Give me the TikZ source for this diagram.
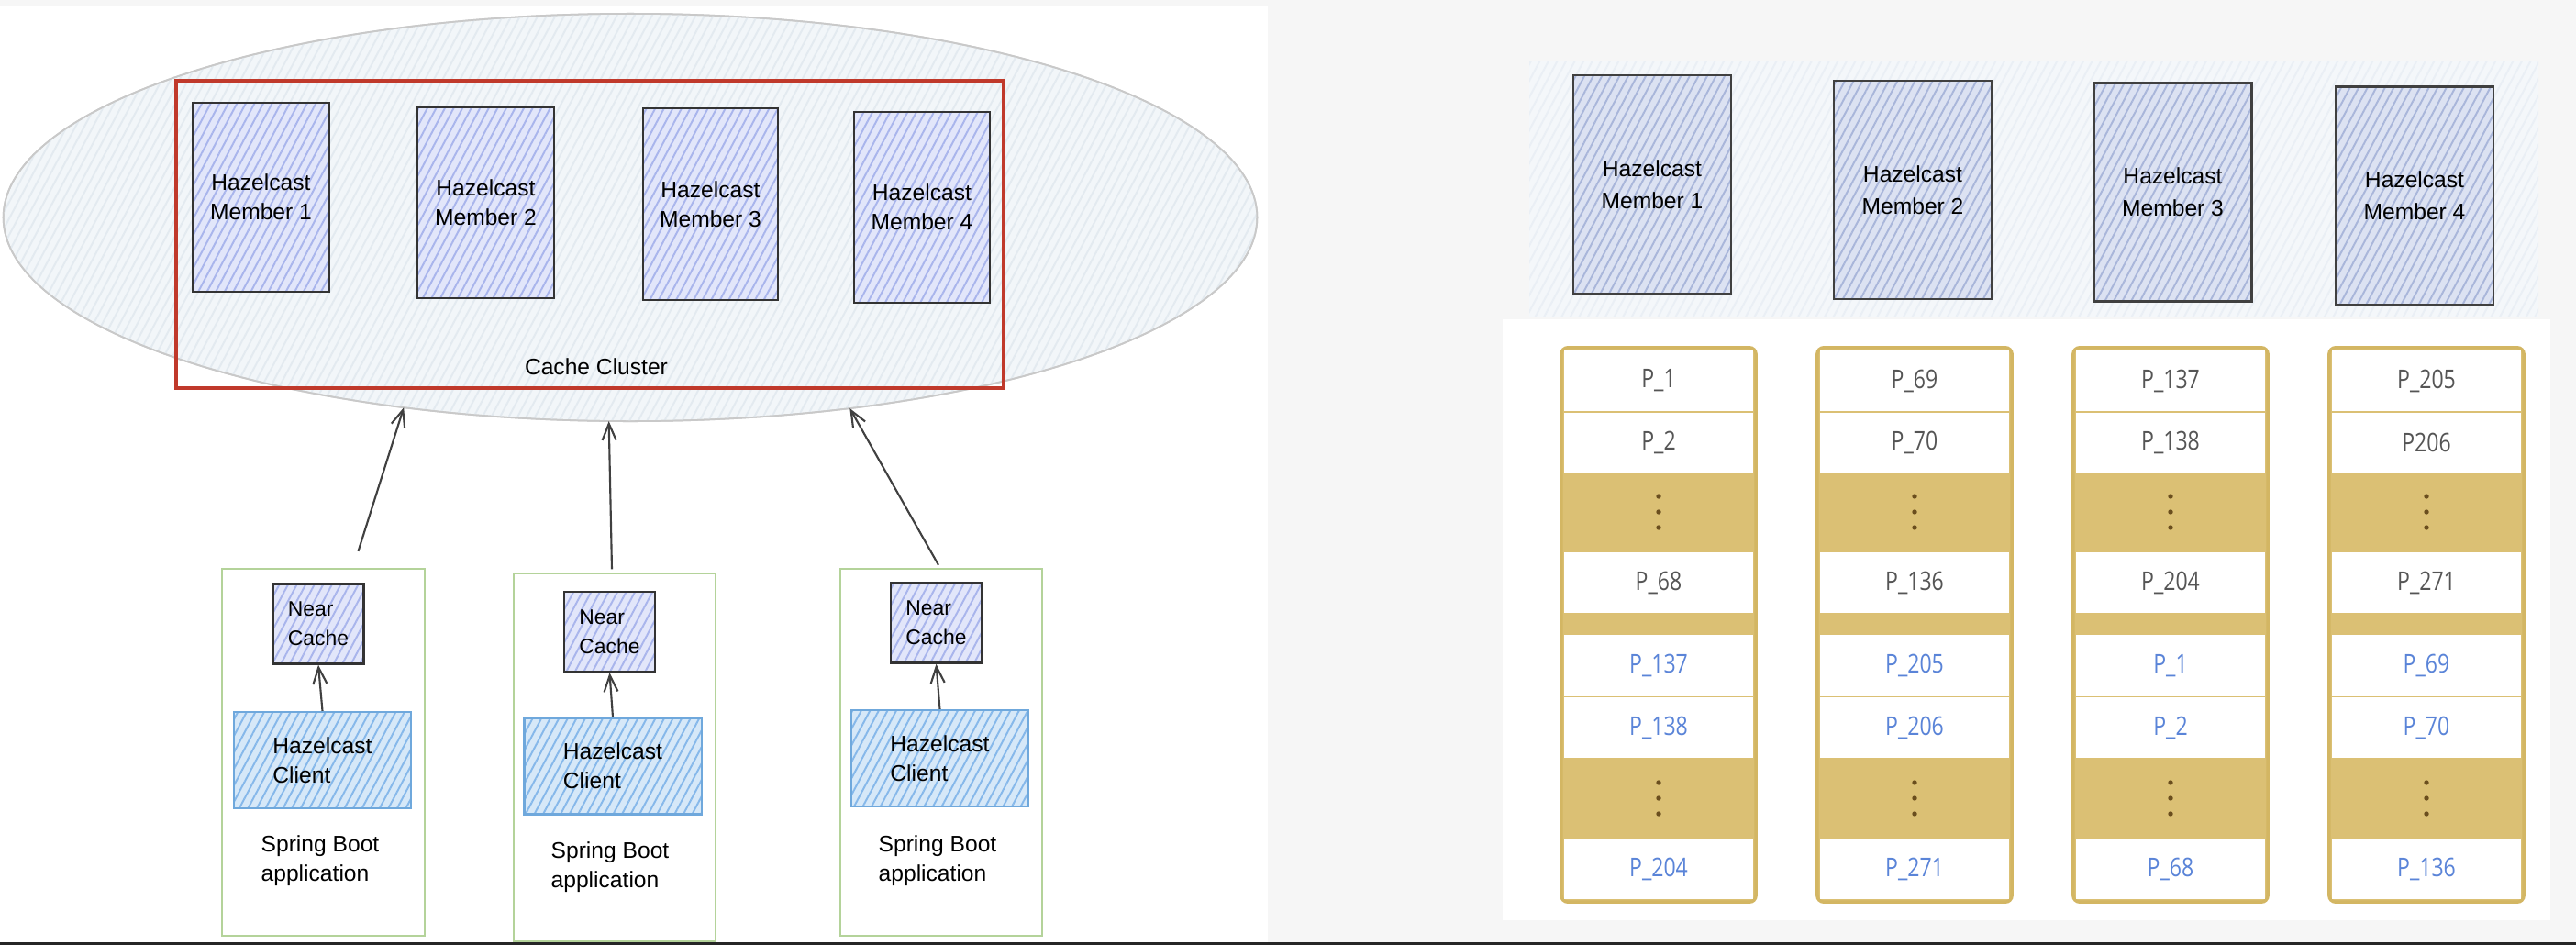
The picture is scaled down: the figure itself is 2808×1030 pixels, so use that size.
\documentclass[tikz,border=0pt]{standalone}
\usepackage{fontspec}
\setmainfont{Liberation Sans}
\newfontfamily\tabfont{Open Sans}[FakeStretch=0.82]
\usetikzlibrary{positioning,arrows.meta,shapes.geometric,patterns.meta,calc}
\definecolor{PageGray}{HTML}{F6F6F6}
\definecolor{RingFill}{HTML}{F2F6F9}
\definecolor{RingHatch}{HTML}{E3EAF0}
\definecolor{RingLine}{HTML}{C9C9C9}
\definecolor{ClusterRed}{HTML}{C0392B}
\definecolor{MemberFill}{HTML}{E2E6FA}
\definecolor{MemberHatch}{HTML}{A9B5EC}
\definecolor{ClientFill}{HTML}{D6E8F8}
\definecolor{ClientHatch}{HTML}{86B8EA}
\definecolor{ClientLine}{HTML}{6FA8DC}
\definecolor{AppGreen}{HTML}{B4D39A}
\definecolor{TopFill}{HTML}{F4F7FA}
\definecolor{TopHatch}{HTML}{EAEFF5}
\definecolor{RMemberFill}{HTML}{DCE2F2}
\definecolor{RMemberHatch}{HTML}{A9B6DA}
\definecolor{Gold}{HTML}{DBC074}
\definecolor{GoldLine}{HTML}{D3B663}
\definecolor{PartGray}{HTML}{555555}
\definecolor{PartBlue}{HTML}{5A84D8}
\definecolor{DotBrown}{HTML}{6A4E1E}

\begin{document}
\begin{tikzpicture}[x=0.01cm,y=-0.01cm,
  hatch/.style={postaction={pattern={Lines[angle=62,distance=2.4pt,line width=.55pt]},pattern color=#1}},
  redraw/.style={postaction={draw}},
  ring/.style={ellipse, draw=RingLine, line width=.5pt, fill=RingFill, hatch=RingHatch, redraw, inner sep=0pt, outer sep=0pt},
  clusterbox/.style={draw=ClusterRed, line width=1.2pt, inner sep=0pt},
  member/.style={draw=black!80, line width=.7pt, fill=MemberFill, hatch=MemberHatch, redraw, align=center, inner sep=0pt, font=\fontsize{7}{9}\selectfont},
  rmember/.style={draw=black!75, line width=.7pt, fill=RMemberFill, hatch=RMemberHatch, redraw, align=center, inner sep=0pt, minimum width=1.72cm, minimum height=2.38cm, font=\fontsize{7}{10}\selectfont},
  app/.style={draw=AppGreen, line width=.6pt, fill=white, minimum width=2.2cm, minimum height=4cm, inner sep=0pt},
  nearc/.style={draw=black!80, line width=.7pt, fill=MemberFill, hatch=MemberHatch, redraw, align=left, inner sep=0pt, minimum width=.99cm, minimum height=.87cm, font=\fontsize{6.5}{9}\selectfont},
  client/.style={draw=ClientLine, line width=.6pt, fill=ClientFill, hatch=ClientHatch, redraw, align=left, inner sep=0pt, minimum width=1.93cm, minimum height=1.05cm, font=\fontsize{7}{9}\selectfont},
  note/.style={align=left, inner sep=1pt, font=\fontsize{7}{9}\selectfont},
  flow/.style={draw=black!75, line width=.6pt, -{Straight Barb[length=1.8mm,width=1.5mm]}},
  partcol/.style={draw=GoldLine, line width=1pt, fill=Gold, rounded corners=2pt, minimum width=2.12cm, minimum height=6.04cm, inner sep=0pt},
  part/.style={fill=white, minimum width=2.06cm, inner sep=0pt, font=\tabfont\fontsize{8}{9}\selectfont},
  dot/.style={fill=DotBrown}]
\useasboundingbox (0,0) rectangle (2808,1030);
% page and panels
\fill[PageGray] (0,0) rectangle (2808,1030);
\fill[white] (0,7) rectangle (1382,1027);
\path[fill=TopFill, hatch=TopHatch] (1667,67) rectangle (2767,345);
\fill[white] (1638,348) rectangle (2780,1003);
\draw[black!85, line width=1pt] (0,1028.5) -- (2808,1028.5);

% cache cluster
\node[ring, minimum width=13.66cm, minimum height=4.44cm] (ring) at (687,237) {};
\node[clusterbox, minimum width=9.02cm, minimum height=3.35cm] (cc) at (643,255.5) {};
\node[note] (cclabel) at (650,400) {Cache Cluster};
\node[member, minimum width=1.49cm, minimum height=2.06cm] (m1) at (284.5,215) {Hazelcast\\Member 1};
\node[member, minimum width=1.49cm, minimum height=2.08cm] (m2) at (529.5,221) {Hazelcast\\Member 2};
\node[member, minimum width=1.47cm, minimum height=2.09cm] (m3) at (774.5,222.5) {Hazelcast\\Member 3};
\node[member, minimum width=1.48cm, minimum height=2.08cm] (m4) at (1005,226) {Hazelcast\\Member 4};

% client applications
\node[app] (app1) at (352.5,820) {};
\node[app] (app2) at (670,825.5) {};
\node[app] (app3) at (1026,820) {};
\node[nearc] (nc1) at (347,680) {Near\\Cache};
\node[nearc] (nc2) at (664.5,688.5) {Near\\Cache};
\node[nearc] (nc3) at (1020.5,679) {Near\\Cache};
\node[client] (cl1) at (351.5,828.5) {Hazelcast\\Client};
\node[client] (cl2) at (668,835) {Hazelcast\\Client};
\node[client] (cl3) at (1024.5,826.5) {Hazelcast\\Client};
\node[note] (sb1) at (349,938) {Spring Boot\\application};
\node[note] (sb2) at (665,945) {Spring Boot\\application};
\node[note] (sb3) at (1022,938) {Spring Boot\\application};

\coordinate (a1) at ($(app1.north)+(38,-18)$);
\coordinate (a2) at ($(app2.north)+(-3,-4)$);
\coordinate (a3) at ($(app3.north)+(-3,-3)$);
\draw[flow] (a1) -- (ring.220);
\draw[flow] (a2) -- (ring.264.5);
\draw[flow] (a3) -- (ring.319.6);
\draw[flow] (cl1.north) -- (nc1.south);
\draw[flow] (cl2.north) -- (nc2.south);
\draw[flow] (cl3.north) -- (nc3.south);

% members and their partitions
\node[rmember] (r1) at (1801,201) {Hazelcast\\Member 1};
\node[rmember] (r2) at (2085,207) {Hazelcast\\Member 2};
\node[rmember] (r3) at (2368.5,209.5) {Hazelcast\\Member 3};
\node[rmember] (r4) at (2632,213.5) {Hazelcast\\Member 4};

\foreach \i/\pa/\pb/\pc/\pd/\pe/\pf in {0/P\_1/P\_2/P\_68/P\_137/P\_138/P\_204,
    1/P\_69/P\_70/P\_136/P\_205/P\_206/P\_271,
    2/P\_137/P\_138/P\_204/P\_1/P\_2/P\_68,
    3/P\_205/P206/P\_271/P\_69/P\_70/P\_136}{
  \pgfmathsetmacro{\cx}{1808+279*\i}
  \node[partcol] (col\i) at (\cx,681) {};
  \node[part, minimum height=.66cm, text=PartGray] (p\i-1) at (\cx,415) {\pa};
  \node[part, minimum height=.65cm, text=PartGray] (p\i-2) at (\cx,482.5) {\pb};
  \node[part, minimum height=.66cm, text=PartGray] (p\i-3) at (\cx,635) {\pc};
  \node[part, minimum height=.66cm, text=PartBlue] (p\i-4) at (\cx,725.5) {\pd};
  \node[part, minimum height=.66cm, text=PartBlue] (p\i-5) at (\cx,793) {\pe};
  \node[part, minimum height=.66cm, text=PartBlue] (p\i-6) at (\cx,947) {\pf};
  \foreach \dy in {541,558,575,853,870,887}
    \fill[dot] (\cx,\dy) circle[radius=.027cm];
}
\end{tikzpicture}
\end{document}
